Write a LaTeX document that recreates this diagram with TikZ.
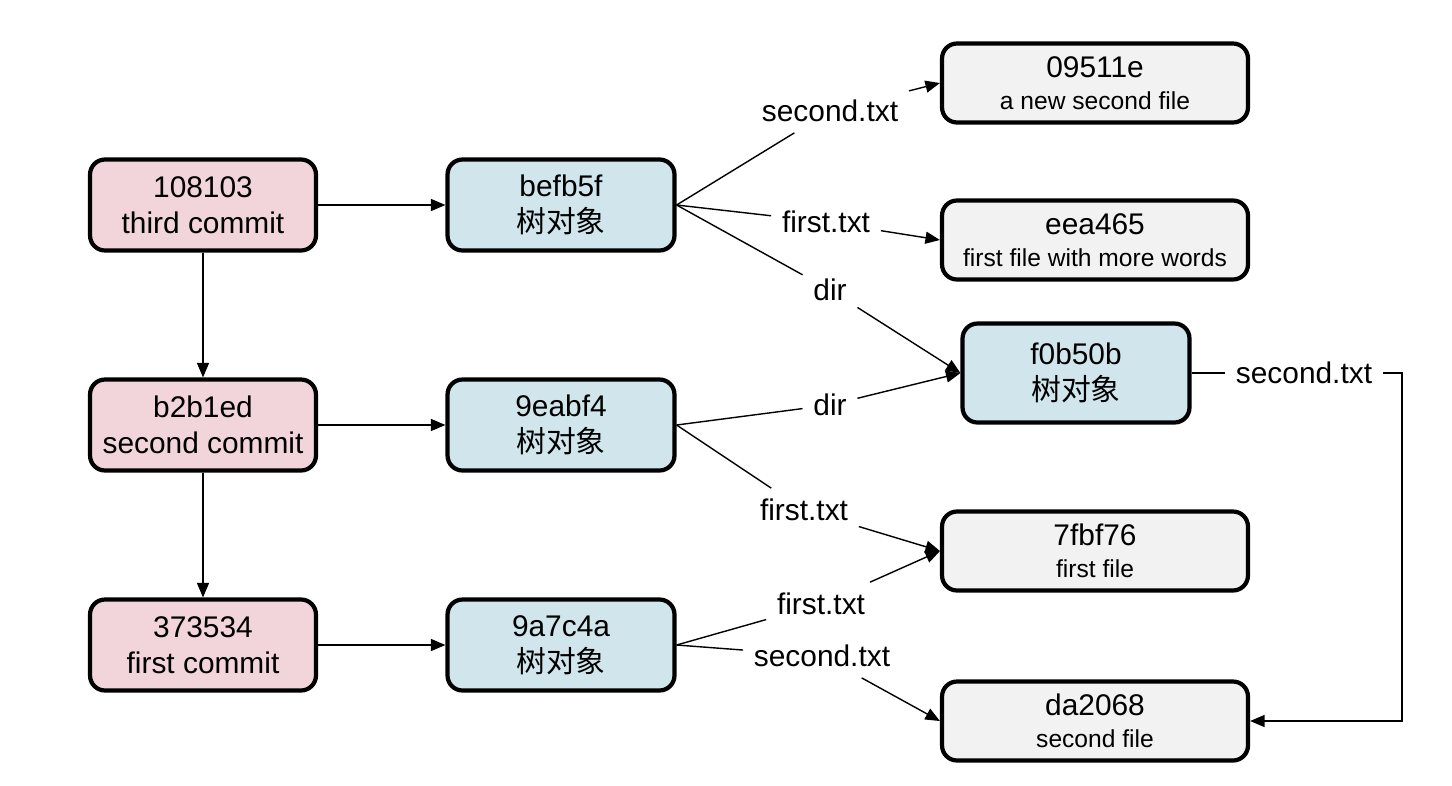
\documentclass[tikz,border=0pt]{standalone}
\usepackage{fontspec}
\setmainfont{Liberation Sans}
\newfontfamily\cjk{Noto Sans CJK SC}
\usetikzlibrary{arrows.meta}
\definecolor{commitpink}{HTML}{F2D5DA}
\definecolor{treeblue}{HTML}{D0E6EC}
\definecolor{blobgray}{HTML}{F2F2F2}
\newcommand{\blobnote}{\fontsize{14}{18}\selectfont}
\tikzset{
    box/.style={draw,line width=2.4pt,rounded corners=0.3cm,align=center,
        font=\fontsize{17}{20.5}\selectfont},
    commitbox/.style={box,fill=commitpink,minimum width=4.52cm,minimum height=1.82cm},
    treebox/.style={box,fill=treeblue,minimum width=4.54cm,minimum height=1.82cm},
    blobbox/.style={box,fill=blobgray,minimum width=6.12cm,minimum height=1.58cm,
        font=\fontsize{17}{18}\selectfont},
    edgelabel/.style={inner sep=6pt,font=\fontsize{17}{20}\selectfont},
    link/.style={line width=0.8pt},
    >={Triangle[length=2.9mm,width=2.4mm]}
}
\begin{document}
\begin{tikzpicture}[x=0.02cm,y=-0.02cm]
    \useasboundingbox (0,0) rectangle (1452,785);
    %commits and their trees
    \foreach \i/\y/\hash/\msg/\tree in {3/205/108103/third commit/befb5f,
        2/425/b2b1ed/second commit/9eabf4, 1/645/373534/first commit/9a7c4a}
        {%
            \node[commitbox] (c\i) at (203,\y) {\hash\\\msg};
            \node[treebox] (t\i) at (561,\y) {\tree\\\cjk 树对象};
        }
    \node[treebox,minimum height=1.98cm] (dirtree) at (1076,373) {f0b50b\\\cjk 树对象};
    %blobs
    \node[blobbox] (b09511e) at (1095,83) {09511e\\\blobnote a new second file};
    \node[blobbox] (beea465) at (1095,240) {eea465\\\blobnote first file with more words};
    \node[blobbox] (b7fbf76) at (1095,551) {7fbf76\\\blobnote first file};
    \node[blobbox] (bda2068) at (1095,721) {da2068\\\blobnote second file};
    %edge labels
    \node[edgelabel] (l1) at (830,111) {second.txt};
    \node[edgelabel] (l2) at (826,222) {first.txt};
    \node[edgelabel] (l3) at (830,290) {dir};
    \node[edgelabel] (l4) at (830,405) {dir};
    \node[edgelabel] (l5) at (804,510) {first.txt};
    \node[edgelabel] (l6) at (821,604) {first.txt};
    \node[edgelabel] (l7) at (822,656) {second.txt};
    \node[edgelabel] (l8) at (1304,373) {second.txt};
    \coordinate (k8) at (1402,373);
    %draw lines
    \foreach \i in {1,2,3}
        {%
            \draw[link,->] (c\i) -- (t\i);
        }
    \draw[link,->] (c3) -- (c2);
    \draw[link,->] (c2) -- (c1);
    \draw[link] (t3.east) -- (l1);
    \draw[link,->] (l1) -- (b09511e.west);
    \draw[link] (t3.east) -- (l2);
    \draw[link,->] (l2) -- (beea465.west);
    \draw[link] (t3.east) -- (l3);
    \draw[link,->] (l3) -- (dirtree.west);
    \draw[link] (t2.east) -- (l4);
    \draw[link,->] (l4) -- (dirtree.west);
    \draw[link] (t2.east) -- (l5);
    \draw[link,->] (l5) -- (b7fbf76.west);
    \draw[link] (t1.east) -- (l6);
    \draw[link,->] (l6) -- (b7fbf76.west);
    \draw[link] (t1.east) -- (l7);
    \draw[link,->] (l7) -- (bda2068.west);
    \draw[link] (dirtree) -- (l8);
    \draw[link,->] (l8) -- (k8) |- (bda2068);
\end{tikzpicture}
\end{document}
